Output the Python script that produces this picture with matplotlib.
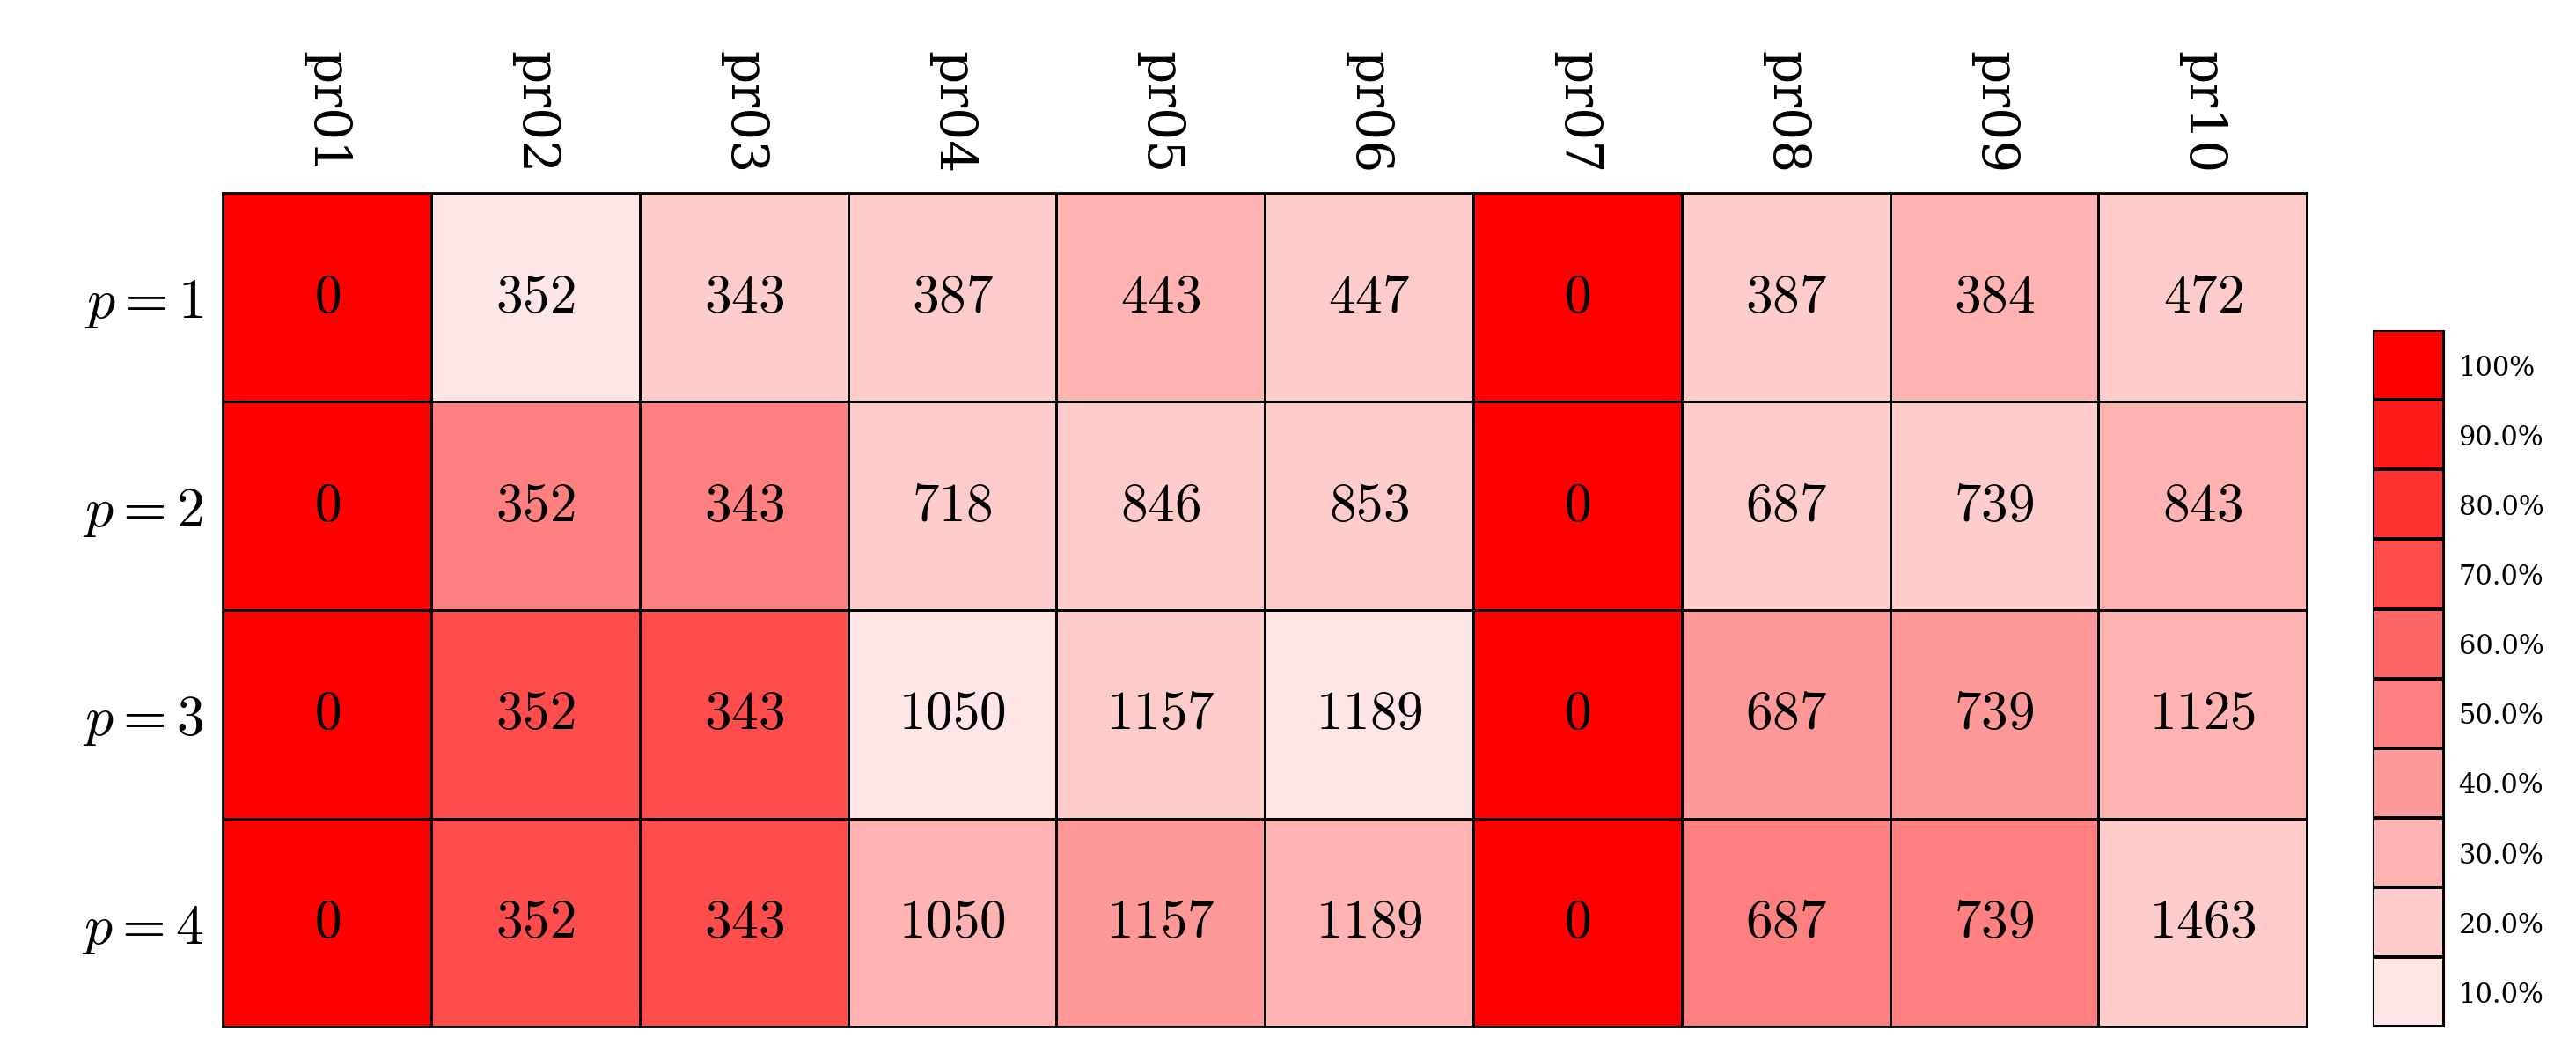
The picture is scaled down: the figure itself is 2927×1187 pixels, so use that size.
import numpy as np
import matplotlib
matplotlib.use("Agg")
import matplotlib.pyplot as plt
from matplotlib.colors import ListedColormap, BoundaryNorm

plt.rcParams['mathtext.fontset'] = 'cm'
plt.rcParams['font.family'] = ['DejaVu Serif']

columns = ["pr01", "pr02", "pr03", "pr04", "pr05", "pr06", "pr07", "pr08", "pr09", "pr10"]
rows = ["$p=1$", "$p=2$", "$p=3$", "$p=4$"]

# numbers printed in the cells
values = np.array([
    [0, 352, 343, 387, 443, 447, 0, 387, 384, 472],
    [0, 352, 343, 718, 846, 853, 0, 687, 739, 843],
    [0, 352, 343, 1050, 1157, 1189, 0, 687, 739, 1125],
    [0, 352, 343, 1050, 1157, 1189, 0, 687, 739, 1463],
])

# colour level of each cell (percent)
levels = np.array([
    [100, 5, 12, 18, 25, 18, 100, 18, 22, 18],
    [100, 45, 48, 18, 18, 12, 100, 18, 12, 20],
    [100, 62, 65, 8, 12, 8, 100, 35, 35, 22],
    [100, 65, 68, 25, 32, 28, 100, 42, 45, 18],
])

bounds = np.arange(0, 101, 10)
cols = [(1.0, 1 - f, 1 - f) for f in np.linspace(0.1, 1.0, 10)]
cmap = ListedColormap(cols)
norm = BoundaryNorm(bounds, cmap.N)

W, H = 1560.0, 633.0
fig = plt.figure(figsize=(29.27, 11.87), dpi=100)
ax = fig.add_axes([135 / W, 1 - 622 / H, (1397 - 135) / W, (622 - 117) / H])
ax.pcolormesh(levels, cmap=cmap, norm=norm, edgecolors='black', linewidth=2)
ax.set_xlim(0, 10)
ax.set_ylim(4, 0)

for i in range(values.shape[0]):
    for j in range(values.shape[1]):
        ax.text(j + 0.5, i + 0.5, f"${values[i, j]}$", ha='center', va='center', fontsize=44)

ax.xaxis.tick_top()
ax.set_xticks(np.arange(10) + 0.5)
ax.set_xticklabels(columns, rotation=-90, fontsize=42, family='DejaVu Serif')
ax.set_yticks(np.arange(4) + 0.5)
ax.set_yticklabels(rows, fontsize=46)
ax.tick_params(length=0, pad=16)
for s in ax.spines.values():
    s.set_linewidth(2)

cax = fig.add_axes([1437 / W, 1 - 622 / H, 43 / W, (622 - 200) / H])
cax.pcolormesh([0, 1], bounds, (bounds[:-1] + 5).reshape(-1, 1), cmap=cmap, norm=norm,
               edgecolors='black', linewidth=1.5)
cax.set_xlim(0, 1)
cax.set_ylim(0, 100)
cax.set_xticks([])
cax.yaxis.tick_right()
cax.set_yticks(bounds[1:] - 5)
cax.set_yticklabels([f"{b:.1f}%" for b in bounds[1:-1]] + ["100%"], fontsize=22)
cax.tick_params(length=0, pad=12)

fig.savefig("out.png", dpi=100)
